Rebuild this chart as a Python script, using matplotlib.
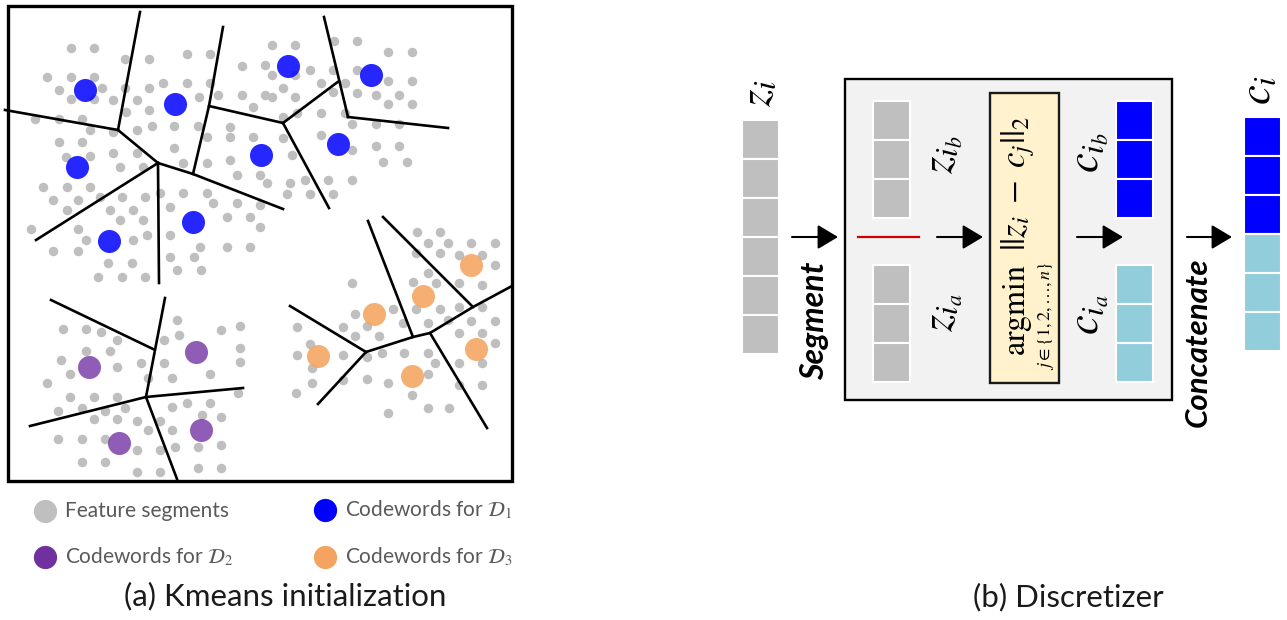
import numpy as np
import matplotlib.pyplot as plt
from matplotlib.patches import Rectangle

plt.rcParams['font.family'] = ['Lato', 'DejaVu Sans']
plt.rcParams['mathtext.fontset'] = 'stix'

# ---- panel (a): feature segments, in pixel coords of the picture ----
dots_top_left = [
    (71, 48), (94, 48), (125, 59), (149, 59), (187, 54), (210, 54), (242, 66),
    (47, 77), (71, 77), (94, 77), (59, 90), (102, 88), (71, 99), (94, 99),
    (113, 100), (125, 88), (149, 88), (163, 83), (187, 83), (210, 83),
    (199, 97), (218, 95), (242, 95), (137, 100), (149, 110), (126, 112),
    (35, 119), (59, 119), (82, 119), (90, 130), (113, 132), (137, 130),
    (152, 126), (174, 126), (198, 126), (230, 127), (59, 142), (82, 142),
    (207, 137), (230, 137), (253, 137), (113, 153), (137, 153), (174, 148),
    (66, 157), (90, 156), (230, 160), (207, 163), (183, 163), (120, 167),
    (143, 167), (237, 175), (43, 187), (67, 187), (90, 187), (53, 200),
    (78, 200), (100, 197), (122, 197), (145, 197), (160, 193), (183, 193),
    (207, 193), (67, 210), (110, 210), (133, 210), (170, 207), (213, 203),
    (237, 203), (120, 220), (143, 220), (31, 229), (78, 229), (227, 217),
    (250, 217), (86, 240), (147, 235), (170, 235), (53, 251), (78, 251),
    (133, 240), (200, 247), (227, 247), (250, 247),
]
dots_top_right = [
    (272, 45), (295, 45), (334, 41), (357, 41), (388, 52), (412, 52),
    (265, 65), (310, 70), (272, 75), (295, 75), (333, 70), (357, 70),
    (321, 83), (345, 83), (388, 81), (412, 81), (283, 88), (333, 92),
    (357, 93), (265, 95), (272, 97), (295, 97), (376, 95), (399, 95),
    (388, 104), (412, 104), (253, 107), (283, 117), (297, 113), (321, 113),
    (345, 113), (352, 124), (376, 124), (399, 124), (283, 138), (321, 135),
    (376, 146), (399, 146), (292, 155), (352, 150), (383, 162), (407, 162),
    (260, 175), (267, 183), (290, 183), (305, 180), (328, 180), (352, 180),
    (287, 194), (310, 194), (333, 194), (260, 205), (260, 227),
]
dots_bottom_left = [
    (108, 263), (132, 263), (170, 257), (194, 257), (98, 277), (122, 277),
    (145, 277), (177, 270), (201, 270), (177, 320), (63, 329), (86, 329),
    (101, 332), (117, 340), (179, 335), (164, 340), (221, 330), (240, 326),
    (86, 351), (110, 351), (61, 360), (141, 363), (164, 363), (240, 348),
    (240, 362), (117, 367), (70, 374), (210, 374), (47, 383), (148, 378),
    (172, 378), (70, 397), (94, 397), (117, 397), (238, 393), (58, 411),
    (82, 408), (105, 411), (125, 408), (172, 407), (187, 403), (210, 403),
    (94, 419), (117, 419), (137, 421), (160, 421), (202, 415), (221, 417),
    (148, 430), (172, 430), (58, 439), (82, 439), (105, 439), (137, 450),
    (160, 450), (175, 447), (198, 447), (221, 445), (82, 462), (105, 462),
    (137, 472), (160, 472), (198, 468), (221, 468),
]
dots_bottom_right = [
    (417, 232), (440, 232), (428, 243), (448, 243), (471, 243), (495, 243),
    (416, 253), (440, 253), (459, 255), (482, 255), (495, 265), (428, 273),
    (352, 283), (413, 282), (436, 283), (459, 283), (482, 285), (355, 314),
    (393, 309), (416, 309), (440, 309), (459, 307), (482, 307), (297, 327),
    (343, 327), (367, 326), (403, 323), (428, 323), (448, 320), (471, 321),
    (495, 321), (355, 336), (379, 336), (459, 333), (482, 333), (310, 344),
    (495, 343), (297, 355), (343, 355), (367, 357), (382, 353), (404, 353),
    (428, 353), (312, 368), (435, 363), (459, 363), (482, 363), (343, 380),
    (367, 379), (388, 383), (428, 374), (312, 383), (459, 385), (482, 385),
    (296, 393), (412, 395), (388, 413), (428, 408), (449, 408),
]

codewords_d1 = [(85, 90), (175, 104), (288, 66), (371, 75), (77, 167),
                (261, 155), (338, 144), (193, 222), (109, 241)]
codewords_d2 = [(89, 367), (196, 352), (119, 443), (201, 430)]
codewords_d3 = [(471, 265), (423, 296), (374, 314), (318, 356),
                (476, 349), (412, 376)]

boundaries = [
    [(5, 110), (118, 130)], [(118, 130), (140, 12)], [(118, 130), (158, 163)],
    [(158, 163), (36, 240)], [(158, 163), (159, 283)],
    [(158, 163), (193, 174), (283, 209)], [(193, 174), (209, 106), (223, 27)],
    [(209, 106), (283, 123)], [(283, 123), (339, 81)], [(324, 17), (348, 117)],
    [(348, 117), (448, 128)], [(283, 123), (329, 208)],
    [(51, 300), (153, 349)], [(165, 298), (146, 397)], [(30, 426), (146, 397)],
    [(146, 397), (243, 388)], [(146, 397), (177, 479)],
    [(368, 221), (413, 337)], [(383, 217), (473, 307)],
    [(290, 306), (366, 352)], [(366, 352), (318, 404)],
    [(366, 352), (413, 337), (430, 333), (473, 307), (512, 286)],
    [(430, 333), (487, 428)],
]

legend_labels = ['Feature segments', r'Codewords for $\mathcal{D}_1$',
                 r'Codewords for $\mathcal{D}_2$', r'Codewords for $\mathcal{D}_3$']

# ---- panel (b): discretizer cells ----
GRAY = '#bfbfbf'
BLUE = '#0000ff'
LIGHT = '#92cddc'
z_i_cells = [GRAY, GRAY, GRAY, GRAY, GRAY, GRAY]
z_ib_cells = [GRAY, GRAY, GRAY]
z_ia_cells = [GRAY, GRAY, GRAY]
c_ib_cells = [BLUE, BLUE, BLUE]
c_ia_cells = [LIGHT, LIGHT, LIGHT]
c_i_cells = [BLUE, BLUE, BLUE, LIGHT, LIGHT, LIGHT]

fig = plt.figure(figsize=(12.87, 6.20), dpi=100)
ax = fig.add_axes([0, 0, 1, 1])
ax.set_xlim(0, 1287)
ax.set_ylim(620, 0)
ax.axis('off')

# panel (a)
dots = np.array(dots_top_left + dots_top_right + dots_bottom_left + dots_bottom_right)
ax.scatter(dots[:, 0], dots[:, 1], s=47, color='#bfbfbf', linewidths=0, zorder=2)
for pts, col, a in [(codewords_d1, '#0000ff', 0.85), (codewords_d2, '#7030a0', 0.78),
                    (codewords_d3, '#f4a460', 0.88)]:
    pts = np.array(pts)
    ax.scatter(pts[:, 0], pts[:, 1], s=275, color=col, alpha=a, linewidths=0, zorder=3)
for seg in boundaries:
    seg = np.array(seg)
    ax.plot(seg[:, 0], seg[:, 1], color='black', lw=1.9, zorder=4)
ax.add_patch(Rectangle((8, 6), 504, 475, fill=False, ec='black', lw=2.4, zorder=5))

leg_pos = [(45, 511), (325, 510), (45, 557), (325, 557)]
leg_cols = ['#bfbfbf', '#0000ff', '#7030a0', '#f4a460']
for (lx, ly), col, lab in zip(leg_pos, leg_cols, legend_labels):
    ax.scatter([lx], [ly], s=280, color=col, linewidths=0)
    ax.text(lx + 20, ly, lab, fontsize=15, color='#595959', va='center', ha='left')
ax.text(285, 596, '(a) Kmeans initialization', fontsize=22.5, color='#1a1a1a',
        ha='center', va='center')

# panel (b)
def column(x, top, cells, w=37, h=39):
    for k, c in enumerate(cells):
        ax.add_patch(Rectangle((x, top + k * h), w, h, fc=c, ec='white', lw=1.5, zorder=3))

ax.add_patch(Rectangle((845, 79), 327, 321, fc='#f2f2f2', ec='black', lw=1.7, zorder=1))
ax.add_patch(Rectangle((990, 93), 69, 290, fc='#fff2cc', ec='#1a1a1a', lw=1.7, zorder=2))

column(742, 120, z_i_cells)
column(873, 101, z_ib_cells)
column(873, 265, z_ia_cells)
column(1116, 101, c_ib_cells)
column(1116, 265, c_ia_cells)
column(1244, 117, c_i_cells)

ax.plot([858, 919], [237, 237], color='#d00000', lw=1.6, zorder=3)
for x0, x1 in [(792, 838), (937, 983), (1077, 1123), (1187, 1232)]:
    ax.annotate('', xy=(x1, 237), xytext=(x0, 237), zorder=4,
                arrowprops=dict(arrowstyle='-|>,head_length=0.5,head_width=0.3',
                                color='black', lw=1.5, mutation_scale=25,
                                shrinkA=0, shrinkB=0))

math_labels = [(758, 93, r'$z_i$'), (943, 155, r'$z_{i_b}$'), (943, 313, r'$z_{i_a}$'),
               (1090, 153, r'$c_{i_b}$'), (1090, 315, r'$c_{i_a}$'), (1257, 90, r'$c_i$')]
for tx, ty, s in math_labels:
    ax.text(tx, ty, s, fontsize=32, rotation=90, ha='center', va='center', zorder=5)

ax.text(1017, 310, r'$\mathrm{argmin}$', fontsize=23, rotation=90, ha='center', va='center')
ax.text(1046, 316, r'$j\in\{1,2,\ldots,n\}$', fontsize=13, rotation=90, ha='center', va='center')
ax.text(1018, 183, r'$||z_i\;-\;c_j||_2$', fontsize=25, rotation=90, ha='center', va='center')

ax.text(815, 321, 'Segment', fontsize=23, fontweight='bold', style='italic',
        rotation=90, ha='center', va='center')
ax.text(1198, 342, 'Concatenate', fontsize=22.5, fontweight='bold', style='italic',
        rotation=90, ha='center', va='center')
ax.text(1068, 597, '(b) Discretizer', fontsize=22.5, color='#1a1a1a', ha='center', va='center')

fig.savefig('out.png', dpi=100)
